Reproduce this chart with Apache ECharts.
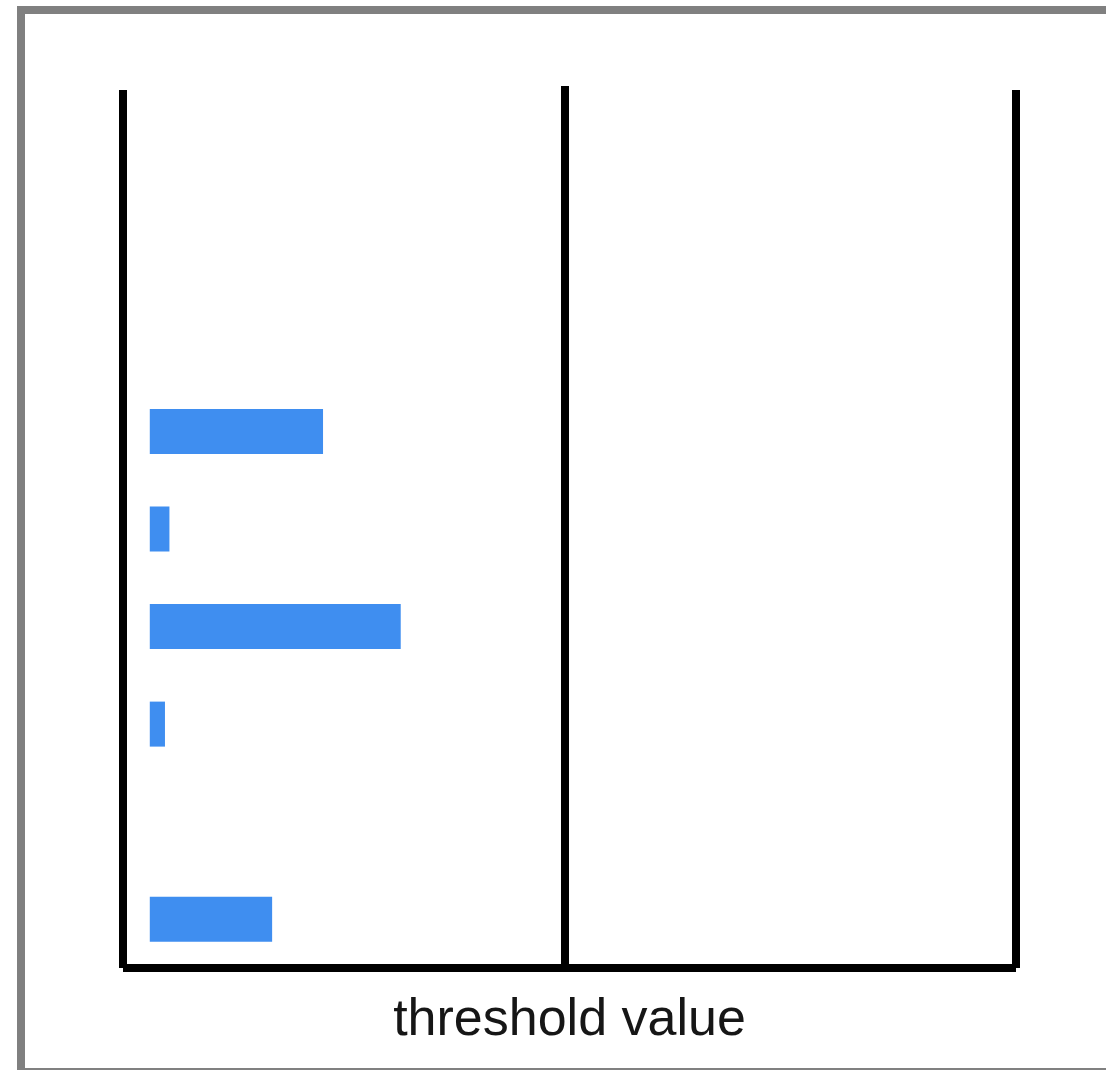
<!DOCTYPE html>
<html>
<head>
<meta charset="utf-8">
<script src="https://cdn.jsdelivr.net/npm/echarts@6/dist/echarts.min.js"></script>
<style>
  html, body { margin: 0; padding: 0; background: #fff; overflow: hidden; width: 1106px; height: 1070px; }
  #frame { position: absolute; left: 17px; top: 6px; width: 1200px; height: 1054px; border: 8px solid #808080; box-sizing: content-box; }
  #chart { position: absolute; left: 0; top: 0; width: 1106px; height: 1070px; }
</style>
</head>
<body>
<div id="frame"></div>
<div id="chart"></div>
<script>
// Categories (bottom to top), unlabeled in the picture
const categories = ['1', '2', '3', '4', '5', '6', '7', '8', '9'];
// Bar values; null = no bar
const values = [13.7, null, 1.7, 28.1, 2.2, 19.4, null, null, null];
// Threshold marker value
const thresholdValue = 46.5;
const xMin = -3;
const xMax = 97;
const axisName = 'threshold value';

const chart = echarts.init(document.getElementById('chart'), null, { renderer: 'canvas' });
const axisLineStyle = { color: '#000', width: 8, cap: 'butt' };
chart.setOption({
  backgroundColor: 'transparent',
  animation: false,
  grid: { left: 123, right: 90, top: 90, bottom: 102, containLabel: false },
  xAxis: {
    type: 'value',
    min: xMin,
    max: xMax,
    name: axisName,
    nameLocation: 'middle',
    nameGap: 27,
    nameTextStyle: { fontSize: 52, color: '#161616', fontFamily: 'Liberation Sans, Arial, sans-serif' },
    axisLine: { show: true, lineStyle: axisLineStyle },
    axisTick: { show: false },
    axisLabel: { show: false },
    splitLine: { show: false }
  },
  yAxis: [
    {
      type: 'category',
      data: categories,
      position: 'left',
      axisLine: { show: true, onZero: false, lineStyle: axisLineStyle },
      axisTick: { show: false },
      axisLabel: { show: false },
      splitLine: { show: false }
    },
    {
      type: 'category',
      data: categories,
      position: 'right',
      axisLine: { show: true, onZero: false, lineStyle: axisLineStyle },
      axisTick: { show: false },
      axisLabel: { show: false },
      splitLine: { show: false }
    }
  ],
  series: [{
    type: 'bar',
    yAxisIndex: 0,
    data: values,
    barWidth: 45,
    itemStyle: { color: '#3F8EF0' },
    markLine: {
      silent: true,
      symbol: ['none', 'none'],
      label: { show: false },
      lineStyle: { color: '#000', width: 8, type: 'solid', cap: 'square' },
      data: [{ xAxis: thresholdValue }]
    }
  }]
});
</script>
</body>
</html>
